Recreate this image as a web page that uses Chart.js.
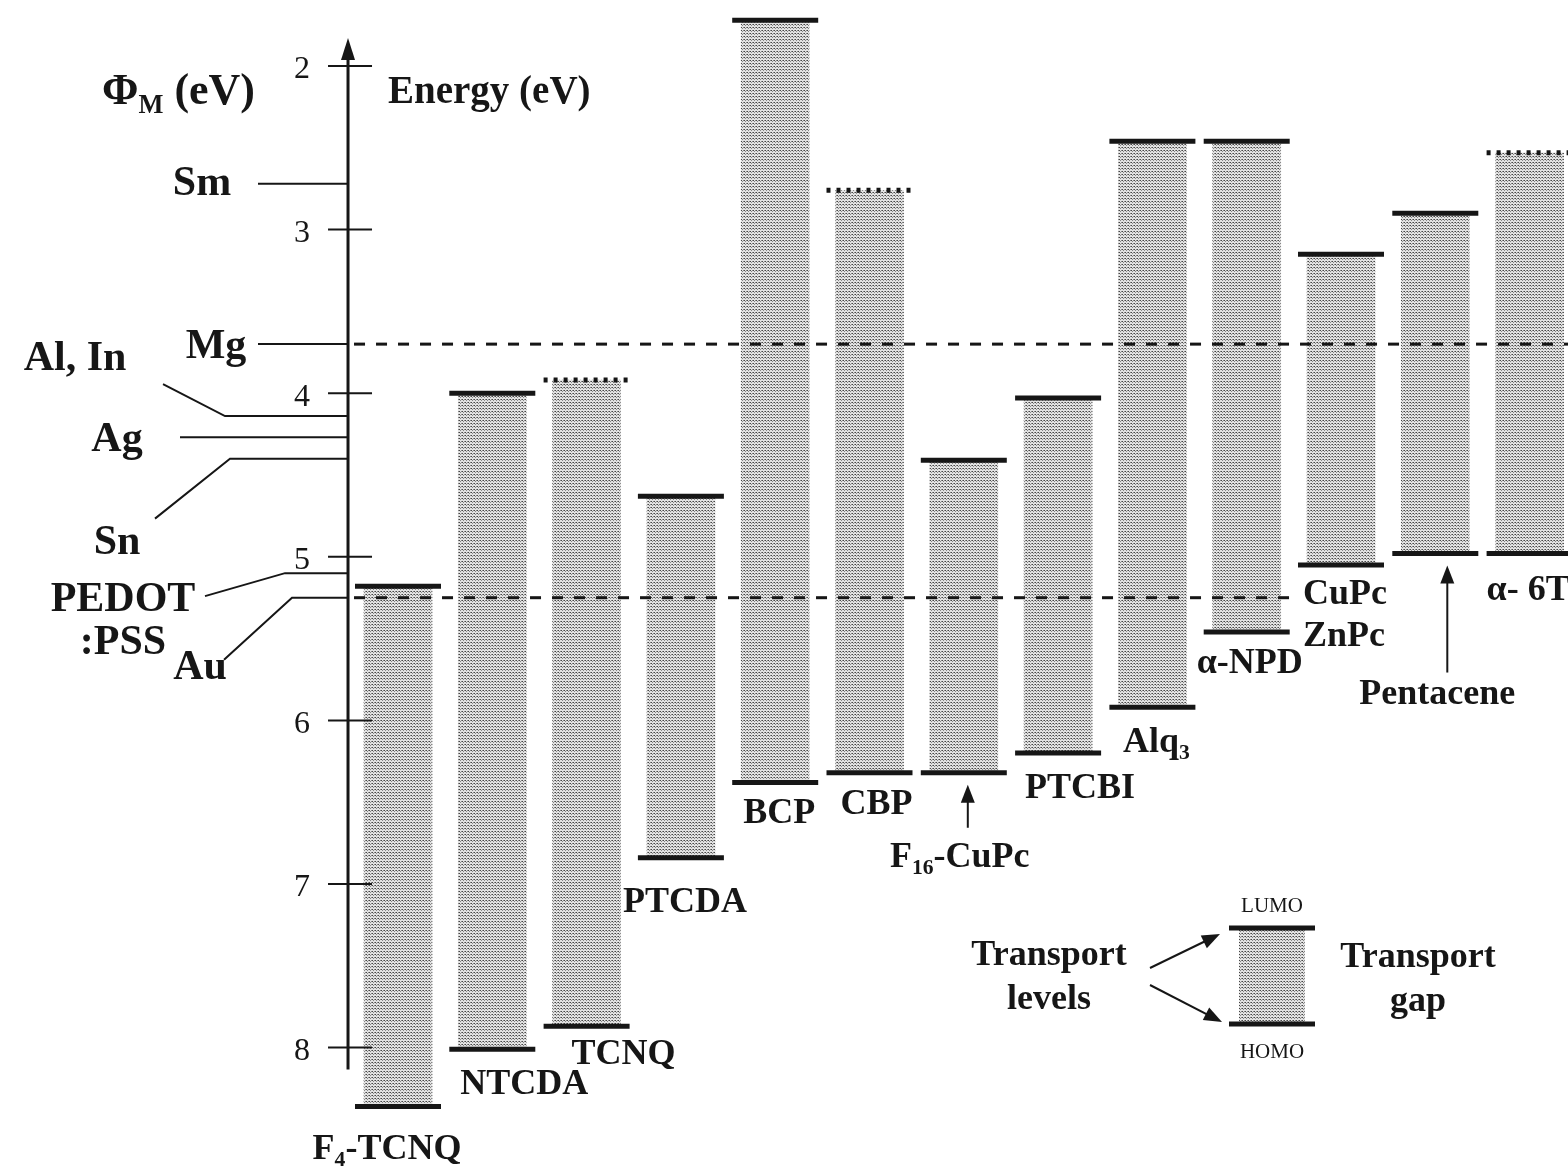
<!DOCTYPE html>
<html>
<head>
<meta charset="utf-8">
<script src="https://cdn.jsdelivr.net/npm/chart.js@4"></script>
<style>
  html, body { margin: 0; padding: 0; background: #fff; }
  #wrap { width: 1568px; height: 1168px; position: relative; }
</style>
</head>
<body>
<div id="wrap"><canvas id="levels"></canvas></div>
<script>
// transport levels (eV below vacuum); _{..} marks a subscript, \n a second line
const materials = ['F_{4}-TCNQ', 'NTCDA', 'TCNQ', 'PTCDA', 'BCP', 'CBP', 'F_{16}-CuPc', 'PTCBI', 'Alq_{3}', 'α-NPD', 'CuPc\nZnPc', 'Pentacene', 'α- 6T'];
const lumo = [5.18, 4.00, 3.92, 4.63, 1.72, 2.76, 4.41, 4.03, 2.46, 2.46, 3.15, 2.90, 2.53];
const homo = [8.36, 8.01, 7.87, 6.84, 6.38, 6.32, 6.32, 6.20, 5.92, 5.46, 5.05, 4.98, 4.98];
const lumoDotted = [false, false, true, false, false, true, false, false, false, false, false, false, true];

// metal work functions
const metals = ['Sm', 'Mg', 'Al, In', 'Ag', 'Sn', 'PEDOT\n:PSS', 'Au'];
const workFunction = [2.72, 3.70, 4.14, 4.27, 4.40, 5.10, 5.25];
const dashedMetals = ['Mg', 'Au'];

const energyTicks = [2, 3, 4, 5, 6, 7, 8];

const ink = '#161616';
const serif = '"Liberation Serif", "DejaVu Serif", serif';

// stippled grey fill for the gaps
const tile = document.createElement('canvas');
tile.width = 3; tile.height = 3;
const tc = tile.getContext('2d');
tc.fillStyle = '#e2e2e2'; tc.fillRect(0, 0, 3, 3);
tc.fillStyle = '#464646'; tc.fillRect(0, 0, 1, 1);
tc.fillStyle = '#878787'; tc.fillRect(1, 1, 1, 1); tc.fillRect(2, 0, 1, 1);
const stipple = tc.createPattern(tile, 'repeat');

function richText(c, text, x, y, size, weight, align) {
  const parts = [];
  text.replace(/_\{([^}]*)\}|([^_]+)/g, (m, sub, plain) => {
    parts.push(sub !== undefined ? { t: sub, sub: true } : { t: plain, sub: false });
  });
  const font = s => `${weight} ${s}px ${serif}`;
  let w = 0;
  parts.forEach(p => { c.font = font(p.sub ? size * 0.6 : size); p.w = c.measureText(p.t).width; w += p.w; });
  let cx = align === 'left' ? x : align === 'right' ? x - w : x - w / 2;
  c.textAlign = 'left';
  c.textBaseline = 'middle';
  parts.forEach(p => {
    c.font = font(p.sub ? size * 0.6 : size);
    c.fillText(p.t, cx, p.sub ? y + size * 0.3 : y);
    cx += p.w;
  });
}

function block(c, text, x, y, size, weight, align, gap) {
  text.split('\n').forEach((line, k) => richText(c, line, x, y + k * gap, size, weight, align));
}

function upArrow(c, x, tipY, tailY) {
  c.beginPath(); c.lineWidth = 2; c.moveTo(x, tailY); c.lineTo(x, tipY + 12); c.stroke();
  c.beginPath(); c.moveTo(x, tipY); c.lineTo(x - 7, tipY + 18); c.lineTo(x + 7, tipY + 18); c.closePath(); c.fill();
}

function slantArrow(c, x0, y0, x1, y1) {
  const a = Math.atan2(y1 - y0, x1 - x0);
  c.beginPath(); c.lineWidth = 2; c.moveTo(x0, y0); c.lineTo(x1 - 12 * Math.cos(a), y1 - 12 * Math.sin(a)); c.stroke();
  c.beginPath(); c.moveTo(x1, y1);
  c.lineTo(x1 - 18 * Math.cos(a) + 7 * Math.sin(a), y1 - 18 * Math.sin(a) - 7 * Math.cos(a));
  c.lineTo(x1 - 18 * Math.cos(a) - 7 * Math.sin(a), y1 - 18 * Math.sin(a) + 7 * Math.cos(a));
  c.closePath(); c.fill();
}

// name placement, relative to bar centre and HOMO line
const tagSpots = [
  { dx: -11, dy: 43 }, { dx: 32, dy: 35 }, { dx: 37, dy: 28 }, { dx: 4, dy: 45 },
  { dx: 4, dy: 31 }, { dx: 7, dy: 32 }, { dx: -4, dy: 85, arrow: [12, 55], adx: 4 },
  { dx: 22, dy: 36 }, { dx: 4, dy: 35 }, { dx: 3, dy: 32 },
  { dx: -38, dy: 30, align: 'left' }, { dx: 2, dy: 141, arrow: [12, 119], adx: 12 },
  { dx: -43, dy: 37, align: 'left' }
];

// leader lines for the work function labels: bend points [x, dy] and label spot
const callouts = {
  'Sm': { pts: [[258, 0]], label: [202, 0] },
  'Mg': { pts: [[258, 0]], label: [216, 3] },
  'Al, In': { pts: [[163, -32], [225, 0]], label: [75, -57] },
  'Ag': { pts: [[180, 0]], label: [117, 3] },
  'Sn': { pts: [[155, 60], [230, 0]], label: [117, 85] },
  'PEDOT\n:PSS': { pts: [[205, 23], [285, 0]], label: [123, 27] },
  'Au': { pts: [[224, 62], [292, 0]], label: [200, 70] }
};
const dashEnd = { 'Mg': 1568, 'Au': 1300 };

const energyDiagram = {
  id: 'energyDiagram',
  afterDatasetsDraw(chart) {
    const c = chart.ctx;
    const { x, y } = chart.scales;
    const axisX = x.getPixelForValue(-0.53);
    c.save();
    c.strokeStyle = ink;
    c.fillStyle = ink;

    // HOMO / LUMO levels
    materials.forEach((m, i) => {
      const cx = x.getPixelForValue(i);
      [[lumo[i], lumoDotted[i]], [homo[i], false]].forEach(([v, dotted]) => {
        const py = y.getPixelForValue(v);
        c.beginPath();
        c.lineWidth = 5;
        c.setLineDash(dotted ? [4, 6] : []);
        c.moveTo(cx - 43, py); c.lineTo(cx + 43, py);
        c.stroke();
      });
      c.setLineDash([]);
      const s = tagSpots[i];
      const by = y.getPixelForValue(homo[i]);
      block(c, materials[i], cx + s.dx, by + s.dy, 36, 'bold', s.align || 'center', 42);
      if (s.arrow) upArrow(c, cx + s.adx, by + s.arrow[0], by + s.arrow[1]);
    });

    // work functions
    metals.forEach((m, i) => {
      const py = y.getPixelForValue(workFunction[i]);
      const k = callouts[m];
      c.beginPath(); c.lineWidth = 2; c.setLineDash([]);
      k.pts.forEach(([px, dy], j) => j ? c.lineTo(px, py + dy) : c.moveTo(px, py + dy));
      c.lineTo(axisX, py);
      c.stroke();
      block(c, m, k.label[0], py + k.label[1], 42, 'bold', 'center', 43);
      if (dashedMetals.includes(m)) {
        c.beginPath(); c.lineWidth = 3; c.setLineDash([11, 11]);
        c.moveTo(axisX + 6, py); c.lineTo(dashEnd[m], py); c.stroke();
        c.setLineDash([]);
      }
    });

    // energy axis with arrow
    const top = y.getPixelForValue(energyTicks[0]) - 28;
    const bottom = y.getPixelForValue(energyTicks[energyTicks.length - 1]) + 22;
    c.beginPath(); c.lineWidth = 3; c.moveTo(axisX, bottom); c.lineTo(axisX, top + 14); c.stroke();
    c.beginPath(); c.moveTo(axisX, top); c.lineTo(axisX - 7, top + 22); c.lineTo(axisX + 7, top + 22); c.closePath(); c.fill();
    energyTicks.forEach(t => {
      const py = y.getPixelForValue(t);
      c.beginPath(); c.lineWidth = 2; c.moveTo(axisX - 20, py); c.lineTo(axisX + 24, py); c.stroke();
      richText(c, String(t), axisX - 38, py + 4, 32, 'normal', 'right');
    });
    richText(c, 'Energy (eV)', axisX + 40, top + 55, 39, 'bold', 'left');
    richText(c, 'Φ_{M} (eV)', 255, top + 55, 44, 'bold', 'right');

    // key: one transport gap
    const kx = 1272, ky0 = 928, ky1 = 1024;
    c.fillStyle = stipple;
    c.fillRect(kx - 33, ky0, 66, ky1 - ky0);
    c.fillStyle = ink;
    c.beginPath(); c.lineWidth = 5;
    c.moveTo(kx - 43, ky0); c.lineTo(kx + 43, ky0);
    c.moveTo(kx - 43, ky1); c.lineTo(kx + 43, ky1);
    c.stroke();
    richText(c, 'LUMO', kx, ky0 - 22, 21, 'normal', 'center');
    richText(c, 'HOMO', kx, ky1 + 28, 21, 'normal', 'center');
    block(c, 'Transport\nlevels', 1049, 956, 36, 'bold', 'center', 44);
    block(c, 'Transport\ngap', 1418, 958, 36, 'bold', 'center', 44);
    slantArrow(c, 1150, 968, 1220, 934);
    slantArrow(c, 1150, 985, 1222, 1022);

    c.restore();
  }
};

new Chart(document.getElementById('levels'), {
  type: 'bar',
  data: {
    datasets: [{
      label: 'Transport gap',
      data: materials.map((m, i) => ({ x: i, y: [lumo[i], homo[i]] })),
      backgroundColor: stipple,
      borderWidth: 0,
      barThickness: 68
    }]
  },
  options: {
    responsive: true,
    maintainAspectRatio: false,
    animation: false,
    layout: { padding: 0 },
    plugins: { legend: { display: false }, tooltip: { enabled: false } },
    scales: {
      x: { type: 'linear', display: false, offset: false, min: -4.2206, max: 12.4072 },
      y: { type: 'linear', display: false, reverse: true, min: 1.5966, max: 8.7359 }
    }
  },
  plugins: [energyDiagram]
});
</script>
</body>
</html>
